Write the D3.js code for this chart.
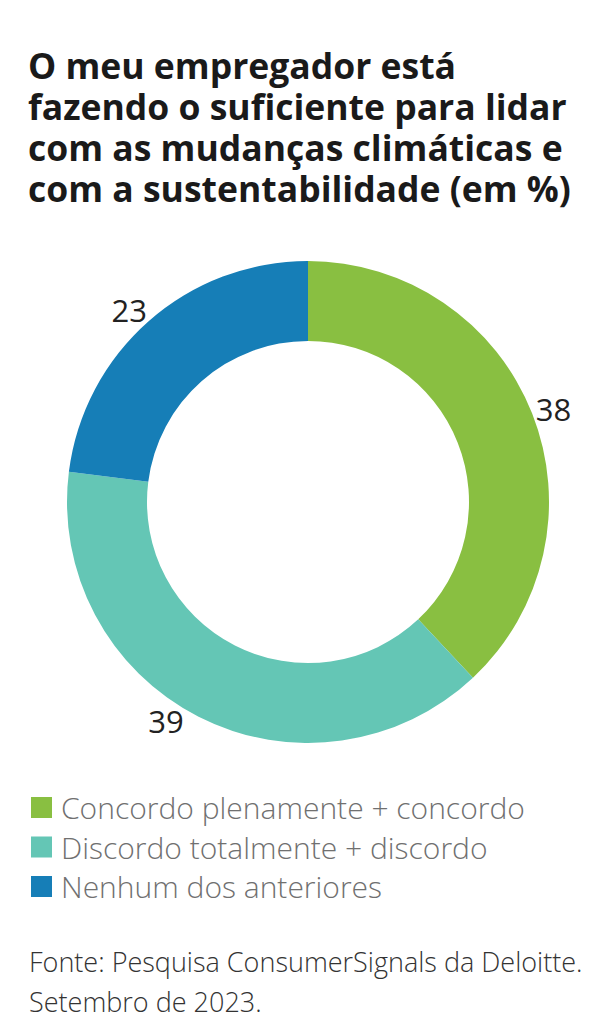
<!DOCTYPE html>
<html><head><meta charset="utf-8">
<script src="https://cdn.jsdelivr.net/npm/d3@7"></script>
<style>
html,body{margin:0;padding:0;background:#fff;}
svg{display:block;}
</style></head>
<body>
<svg id="chart" width="616" height="1024"></svg>
<script>
const titleLines = ["O meu empregador está","fazendo o suficiente para lidar","com as mudanças climáticas e","com a sustentabilidade (em %)"];
const categories = ["Concordo plenamente + concordo","Discordo totalmente + discordo","Nenhum dos anteriores"];
const values = [38, 39, 23];
const colors = ["#89bf41","#64c6b5","#167eb7"];
const sourceLines = ["Fonte: Pesquisa ConsumerSignals da Deloitte.","Setembro de 2023."];

const svg = d3.select("#chart");
svg.append("rect").attr("width",616).attr("height",1024).attr("fill","#fff");

const title = svg.append("text")
  .attr("font-family","'Open Sans', sans-serif").attr("font-weight",700)
  .attr("font-size",35.5).attr("fill","#1a1a1a");
title.selectAll("tspan").data(titleLines).join("tspan")
  .attr("x",28).attr("y",(d,i)=>79+i*41).text(d=>d);

const cx=308, cy=502, R=241, r=161;
const data = categories.map((c,i)=>({cat:c,value:values[i],color:colors[i]}));
const pie = d3.pie().value(d=>d.value).sort(null);
const arc = d3.arc().innerRadius(r).outerRadius(R);
const arcs = pie(data);
const g = svg.append("g").attr("transform",`translate(${cx},${cy})`);
g.selectAll("path").data(arcs).join("path").attr("d",arc).attr("fill",d=>d.data.color);

// label placement: just outside the ring, slight angular nudges to avoid the arc edges
const labelR = 262;
const nudgeDeg = [1.1, 5.8, -1.6];
g.selectAll("text").data(arcs).join("text")
  .attr("transform",(d,i)=>{
    const a = (d.startAngle+d.endAngle)/2 + nudgeDeg[i]*Math.PI/180;
    return `translate(${labelR*Math.sin(a)},${-labelR*Math.cos(a)})`;
  })
  .attr("text-anchor","middle").attr("dy","0.36em")
  .attr("font-family","'Open Sans', sans-serif").attr("font-size",31).attr("fill","#222")
  .text(d=>d.data.value);

const leg = svg.append("g").selectAll("g").data(data).join("g")
  .attr("transform",(d,i)=>`translate(31,${797+i*39.5})`);
leg.append("rect").attr("width",21).attr("height",21).attr("fill",d=>d.color);
leg.append("text").attr("x",30).attr("y",22)
  .attr("font-family","'Open Sans', sans-serif").attr("font-weight",300)
  .attr("font-size",30).attr("fill","#707070").text(d=>d.cat);

const src = svg.append("text")
  .attr("font-family","'Open Sans', sans-serif").attr("font-weight",300)
  .attr("font-size",27).attr("fill","#333");
src.selectAll("tspan").data(sourceLines).join("tspan")
  .attr("x",29).attr("y",(d,i)=>972+i*40).text(d=>d);
</script>
</body></html>
